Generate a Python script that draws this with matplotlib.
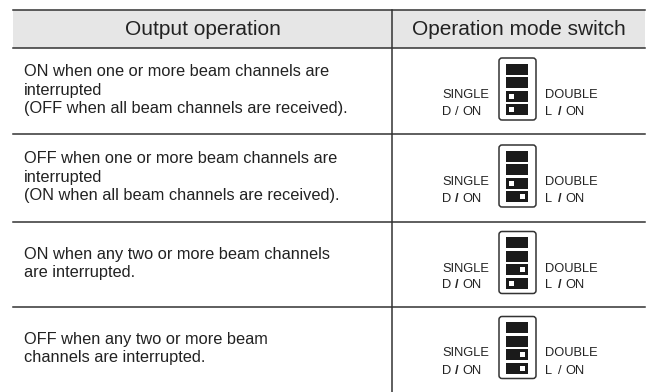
import matplotlib.pyplot as plt
from matplotlib.patches import Rectangle, FancyBboxPatch

plt.rcParams['font.family'] = ['Liberation Sans', 'DejaVu Sans']

# Datos de la tabla
encabezados = ["Output operation", "Operation mode switch"]
descripciones = [
    "ON when one or more beam channels are\ninterrupted\n(OFF when all beam channels are received).",
    "OFF when one or more beam channels are\ninterrupted\n(ON when all beam channels are received).",
    "ON when any two or more beam channels\nare interrupted.",
    "OFF when any two or more beam\nchannels are interrupted.",
]
# posicion del interruptor 3 y 4: "L" = izquierda, "R" = derecha
sw3 = ["L", "L", "R", "R"]
sw4 = ["L", "R", "L", "R"]
# barra en negrita en las etiquetas
barra_single = [False, True, True, True]
barra_double = [True, True, True, False]

W, H = 651, 392
fig = plt.figure(figsize=(W / 100, H / 100), dpi=100)
ax = fig.add_axes([0, 0, 1, 1])
ax.set_xlim(0, W)
ax.set_ylim(H, 0)
ax.axis("off")

xl, xm, xr = 13, 392, 645
lineas_y = [10, 48, 134, 222, 307]
col_txt = "#222222"
col_lin = "#333333"

# Encabezado gris
ax.add_patch(Rectangle((xl, 10), xr - xl, 38, facecolor="#e6e6e6", edgecolor="none"))
for y in lineas_y:
    ax.plot([xl, xr], [y, y], color=col_lin, lw=1.1)
ax.plot([xm, xm], [10, H], color=col_lin, lw=1.1)

ax.text((xl + xm) / 2, 29, encabezados[0], ha="center", va="center", fontsize=15, color=col_txt)
ax.text((xm + xr) / 2, 29, encabezados[1], ha="center", va="center", fontsize=15, color=col_txt)


def etiqueta(x, y, letra, negrita):
    fs = 9.3
    ax.text(x, y, letra, ha="left", va="center", fontsize=fs, color=col_txt)
    ax.text(x + 13, y, "/", ha="left", va="center", fontsize=fs, color=col_txt,
            fontweight="bold" if negrita else "normal")
    ax.text(x + 20, y, "ON", ha="left", va="center", fontsize=fs, color=col_txt)


filas_y = [48, 134, 222, 307, 392]
for i in range(len(descripciones)):
    y0, y1 = filas_y[i], filas_y[i + 1]
    yc = (y0 + y1) / 2
    ax.text(24, yc - 1, descripciones[i], ha="left", va="center", fontsize=11.8,
            color=col_txt, linespacing=1.3)

    # caja del interruptor
    bx, bw, bh = 499, 37, 62
    by = yc - 2 - bh / 2
    ax.add_patch(FancyBboxPatch((bx, by), bw, bh, boxstyle="round,pad=0,rounding_size=3",
                                facecolor="white", edgecolor=col_lin, lw=1.1))
    estados = [None, None, sw3[i], sw4[i]]
    for k in range(4):
        sy = by + 5.5 + k * 13.5
        ax.add_patch(Rectangle((506, sy), 22, 11, facecolor="#1a1a1a", edgecolor="none"))
        if estados[k] == "L":
            ax.add_patch(Rectangle((509, sy + 3), 5, 5, facecolor="white", edgecolor="none"))
        elif estados[k] == "R":
            ax.add_patch(Rectangle((520, sy + 3), 5, 5, facecolor="white", edgecolor="none"))

    ax.text(442, yc + 4, "SINGLE", ha="left", va="center", fontsize=9.3, color=col_txt)
    etiqueta(442, yc + 21, "D", barra_single[i])
    ax.text(545, yc + 4, "DOUBLE", ha="left", va="center", fontsize=9.3, color=col_txt)
    etiqueta(545, yc + 21, "L", barra_double[i])

fig.savefig("out.png", dpi=100)
